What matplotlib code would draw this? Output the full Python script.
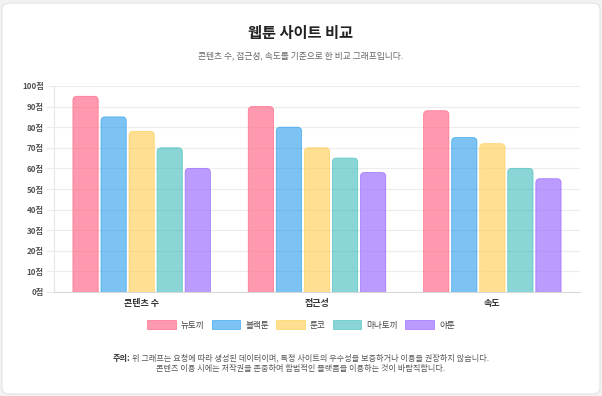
import numpy as np
import matplotlib
matplotlib.use("Agg")
from matplotlib import pyplot as plt
from matplotlib.patches import FancyBboxPatch, Patch

plt.rcParams['font.family'] = ['Noto Sans CJK KR', 'DejaVu Sans']

categories = ['콘텐츠 수', '접근성', '속도']
sites = ['뉴토끼', '블랙툰', '툰코', '마나토끼', '야툰']
scores = [
    [95, 90, 88],   # 뉴토끼
    [85, 80, 75],   # 블랙툰
    [78, 70, 72],   # 툰코
    [70, 65, 60],   # 마나토끼
    [60, 58, 55],   # 야툰
]
yticks = [0, 10, 20, 30, 40, 50, 60, 70, 80, 90, 100]

base = [(255, 99, 132), (54, 162, 235), (255, 206, 86), (75, 192, 192), (153, 102, 255)]
fills = [tuple(c / 255 for c in rgb) + (0.65,) for rgb in base]
edges = [tuple(c / 255 for c in rgb) + (0.75,) for rgb in base]

W, H = 602, 396
fig = plt.figure(figsize=(W / 100, H / 100), dpi=100)
fig.patch.set_facecolor('#f2f2f2')

# white card
card = FancyBboxPatch((2 / W, 2 / H), 598 / W, 391 / H,
                      boxstyle="round,pad=0,rounding_size=0.015",
                      transform=fig.transFigure, facecolor='white',
                      edgecolor='#e4e4e4', linewidth=0.8, zorder=-5)
fig.patches.append(card)

ax = fig.add_axes([54 / W, 1 - 292 / H, 526 / W, 206 / H], zorder=2)
ax.set_facecolor('none')
ax.set_xlim(-0.5, 2.5)
ax.set_ylim(0, 100)

x = np.arange(len(categories))
n = len(sites)
slot = 0.8 / n
bw = slot * 0.9

# rounded bars (radius in px -> data units)
px_x = 3 / 526
px_y = 100 / 206
r = 4 * px_x
aspect = px_y / px_x
for i in range(n):
    for j in range(len(categories)):
        left = x[j] - 0.4 + slot * i + (slot - bw) / 2
        v = scores[i][j]
        p = FancyBboxPatch((left, -10), bw, v + 10,
                           boxstyle=f"round,pad=0,rounding_size={r}",
                           mutation_aspect=aspect,
                           facecolor=fills[i], edgecolor=edges[i],
                           linewidth=0.6, zorder=3)
        ax.add_patch(p)

ax.set_yticks(yticks)
ax.set_yticklabels([f'{t}점' for t in yticks], fontsize=5.8, fontweight='bold', color='#555555')
ax.set_xticks(x)
ax.set_xticklabels(categories, fontsize=6.5, fontweight='bold', color='#333333')
ax.tick_params(axis='y', length=6, color='#ececec', pad=1.5)
ax.tick_params(axis='x', length=0, pad=5)
ax.grid(axis='y', color='#ececec', linewidth=0.8, zorder=0)
ax.set_axisbelow(True)
for s in ['top', 'right']:
    ax.spines[s].set_visible(False)
ax.spines['left'].set_color('#e6e6e6')
ax.spines['bottom'].set_color('#d8d8d8')
ax.spines['left'].set_linewidth(0.8)
ax.spines['bottom'].set_linewidth(0.8)

handles = [Patch(facecolor=fills[i], edgecolor=edges[i], linewidth=0.6) for i in range(n)]
fig.legend(handles, sites, loc='center', bbox_to_anchor=(0.5, 1 - 325 / H), ncol=5,
           frameon=False, fontsize=6.2, handlelength=3.3, handleheight=1.15,
           handletextpad=0.6, columnspacing=0.85, labelcolor='#444444')

fig.text(0.5, 1 - 33 / H, '웹툰 사이트 비교', ha='center', va='center',
         fontsize=11, fontweight='bold', color='#222222')
fig.text(0.5, 1 - 56 / H, '콘텐츠 수, 접근성, 속도를 기준으로 한 비교 그래프입니다.',
         ha='center', va='center', fontsize=6.3, color='#666666')

line1 = '위 그래프는 요청에 따라 생성된 데이터이며, 특정 사이트의 우수성을 보증하거나 이용을 권장하지 않습니다.'
t1 = fig.text(0.5 + 10 / W, 1 - 358 / H, line1, ha='center', va='center',
              fontsize=5.85, color='#555555')
fig.canvas.draw()
bb = t1.get_window_extent()
fig.text((bb.x0 - 2) / W, 1 - 358 / H, '주의:', ha='right', va='center',
         fontsize=5.85, fontweight='bold', color='#333333')
fig.text(0.5, 1 - 369 / H, '콘텐츠 이용 시에는 저작권을 존중하여 합법적인 플랫폼을 이용하는 것이 바람직합니다.',
         ha='center', va='center', fontsize=5.85, color='#555555')

fig.savefig('out.png', dpi=100, facecolor=fig.get_facecolor())
